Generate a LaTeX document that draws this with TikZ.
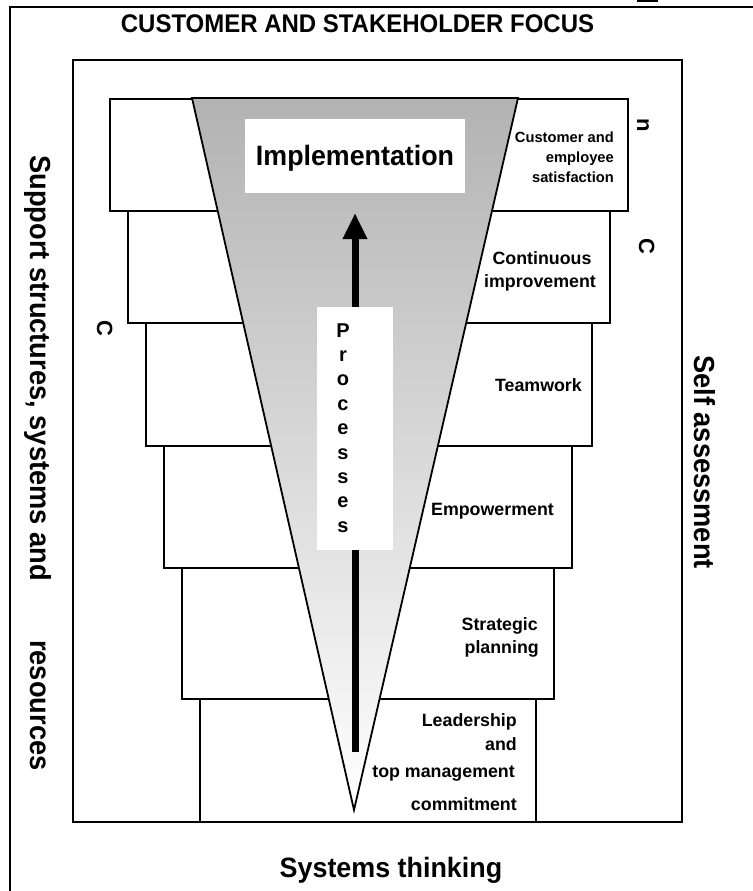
\documentclass[tikz,border=0pt]{standalone}
\usepackage{fontspec}
\setmainfont{Liberation Sans}
\usetikzlibrary{arrows.meta}
\definecolor{funneltop}{gray}{0.70}

\begin{document}
\begin{tikzpicture}[x=1pt,y=-1pt,
  frame/.style={line width=2.2pt},
  stepbox/.style={draw, fill=white, line width=1.8pt},
  bigtxt/.style={inner sep=0pt, font=\bfseries\fontsize{29}{29}\selectfont},
  sidetxt/.style={bigtxt, rotate=-90, anchor=base west},
  lettxt/.style={inner sep=0pt, rotate=-90, anchor=base west, font=\bfseries\fontsize{22}{22}\selectfont},
  steptxt/.style={inner sep=0pt, font=\bfseries\fontsize{17.8}{23}\selectfont},
  smalltxt/.style={inner sep=0pt, font=\bfseries\fontsize{14.7}{20}\selectfont},
  proclet/.style={inner sep=0pt, anchor=base, font=\bfseries\fontsize{20}{20}\selectfont}]
\useasboundingbox (0,0) rectangle (752,891);

% outer and inner frames
\draw[frame] (10,900) -- (10,7) -- (770,7);
\fill (637,-2) rectangle (658,2.5);
\draw[frame] (73,60) rectangle (682,822);

% the staircase of steps
\path[stepbox] (110,99)  rectangle (628,211);
\path[stepbox] (128,211) rectangle (610,323);
\path[stepbox] (146,323) rectangle (592,446);
\path[stepbox] (164,446) rectangle (572,568);
\path[stepbox] (182,568) rectangle (554,699);
\path[stepbox] (200,699) rectangle (536,822);

% funnel
\coordinate (fl) at (192,98);
\coordinate (fr) at (518,98);
\coordinate (apex) at (354,810);
\shade[top color=funneltop, bottom color=white] (fl) -- (fr) -- (apex) -- cycle;
\draw[line width=1.8pt, line join=miter] (fl) -- (fr) -- (apex) -- cycle;

% implementation label
\node[fill=white, inner sep=0pt, minimum width=220pt, minimum height=74pt] (impl) at (355,156) {};
\node[bigtxt, anchor=base] (impltext) at (355,165) {\scalebox{0.957}[1]{\fontsize{28}{28}\selectfont Implementation}};

% rising arrow
\coordinate (foot) at (355,752);
\coordinate (tip) at (355,213);
\draw[line width=7pt, -{Triangle[length=26pt,width=23pt]}] (foot) -- (tip);

% processes column
\node[fill=white, inner sep=0pt, minimum width=76pt, minimum height=243pt] (procbox) at (355,428.5) {};
\foreach \ch [count=\i] in {P,r,o,c,e,s,s,e,s}
  \node[proclet] (proc-\i) at (343,{337+24.4*(\i-1)}) {\ch};

% step labels
\node[smalltxt, anchor=base east] (cs1) at (614,142) {Customer and};
\node[smalltxt, anchor=base east] (cs2) at (614,162) {employee};
\node[smalltxt, anchor=base east] (cs3) at (614,182) {satisfaction};
\node[steptxt, anchor=base] (ci1) at (542,264) {Continuous};
\node[steptxt, anchor=base] (ci2) at (540,287) {improvement};
\node[steptxt, anchor=base east] (team) at (582,391) {Teamwork};
\node[steptxt, anchor=base east] (emp) at (554,515) {Empowerment};
\node[steptxt, anchor=base east] (sp1) at (538,630) {Strategic};
\node[steptxt, anchor=base east] (sp2) at (539,653) {planning};
\node[steptxt, anchor=base east] (ld1) at (517,726) {Leadership};
\node[steptxt, anchor=base east] (ld2) at (517,750) {and};
\node[steptxt, anchor=base east] (ld3) at (515,777) {top management};
\node[steptxt, anchor=base east] (ld4) at (517,810) {commitment};

% surrounding themes
\node[bigtxt, anchor=base] (focus) at (357.5,33) {\scalebox{0.94}[1]{\fontsize{25.5}{25.5}\selectfont CUSTOMER AND STAKEHOLDER FOCUS}};
\node[bigtxt, anchor=base] (systems) at (391,877) {\scalebox{0.96}[1]{\fontsize{28}{28}\selectfont Systems thinking}};
\node[sidetxt] (support) at (30,155) {\scalebox{0.94}[1]{Support structures, systems and}};
\node[sidetxt] (resources) at (30,640) {\scalebox{0.94}[1]{resources}};
\node[sidetxt] (selfass) at (694,355) {\scalebox{0.94}[1]{Self assessment}};

% stray letters
\node[lettxt] (letn) at (637,118) {n};
\node[lettxt] (letc1) at (639,238) {C};
\node[lettxt] (letc2) at (97,320) {C};
\end{tikzpicture}
\end{document}
